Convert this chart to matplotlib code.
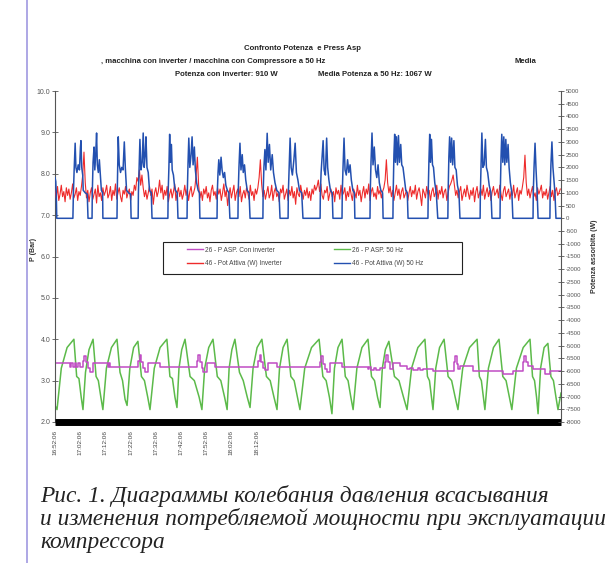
import numpy as np
import matplotlib
matplotlib.use("Agg")
import matplotlib.pyplot as plt
from matplotlib.lines import Line2D
from matplotlib.patches import Rectangle

# ---------------- data ----------------
time_labels = ["16:52:06", "17:02:06", "17:12:06", "17:22:06", "17:32:06",
               "17:42:06", "17:52:06", "18:02:06", "18:12:06"]
label_minutes = [0, 10, 20, 30, 40, 50, 60, 70, 80]

# suction pressure, machine at 50 Hz (minutes, bar)
green_pressure = [
    (0.0, 2.4), (0.8, 2.3), (2.5, 3.3), (4.8, 3.8), (7.5, 4.0), (8.6, 3.1), (9.5, 3.05), (10.4, 2.6), (11.1, 2.3),
    (12.1, 3.2), (13.5, 3.75), (15.1, 4.0), (16.3, 3.1), (17.2, 3.0), (18.2, 2.6), (19.0, 2.3),
    (20.4, 3.3), (22.4, 3.8), (24.6, 4.0), (25.8, 3.2), (26.8, 3.0), (27.8, 2.55), (28.6, 2.4),
    (29.7, 3.3), (31.2, 3.8), (32.9, 3.95), (34.3, 3.1), (35.5, 3.0), (36.8, 2.6), (37.7, 2.3),
    (39.4, 3.3), (41.7, 3.8), (44.4, 4.0), (45.6, 3.1), (46.6, 3.05), (47.6, 2.6), (48.4, 2.35),
    (49.2, 3.3), (50.3, 3.75), (51.6, 4.0), (53.6, 3.1), (55.3, 3.0), (57.2, 2.6), (58.3, 2.3),
    (59.4, 3.3), (61.0, 3.8), (62.7, 4.0), (64.4, 3.1), (65.8, 3.0), (67.3, 2.6), (68.3, 2.3),
    (69.1, 3.3), (70.2, 3.75), (71.4, 4.0), (73.2, 3.2), (74.7, 3.0), (76.3, 2.6), (77.4, 2.35),
    (78.6, 3.3), (80.2, 3.8), (82.1, 4.0), (83.9, 3.1), (85.4, 3.0), (86.9, 2.6), (88.1, 2.3),
    (89.1, 3.3), (90.5, 3.8), (92.1, 4.0), (93.6, 3.1), (94.9, 3.0), (96.2, 2.6), (97.2, 2.3),
    (99.1, 3.3), (101.8, 3.8), (104.8, 4.0), (106.3, 3.1), (107.6, 3.0), (108.9, 2.6), (109.9, 2.2),
    (110.9, 3.3), (112.3, 3.8), (113.9, 4.0), (115.2, 3.1), (116.3, 3.0), (117.4, 2.6), (118.3, 2.3),
    (119.8, 3.3), (121.8, 3.8), (124.2, 4.0), (125.6, 3.1), (126.8, 3.0), (128.0, 2.6), (129.0, 2.35),
    (129.9, 3.3), (131.1, 3.75), (132.5, 3.95), (134.7, 3.1), (136.5, 3.0), (138.3, 2.6), (139.7, 2.3),
    (141.5, 3.3), (144.0, 3.8), (146.8, 4.0), (147.8, 3.1), (148.6, 3.0), (149.4, 2.6), (150.0, 2.3),
    (151.1, 3.3), (152.6, 3.8), (154.4, 4.0), (156.0, 3.1), (157.4, 3.0), (158.8, 2.6), (159.9, 2.3),
    (161.8, 3.3), (164.5, 3.8), (167.5, 4.0), (168.4, 3.1), (169.2, 3.0), (170.0, 2.6), (170.6, 2.3),
    (172.0, 3.3), (174.0, 3.8), (176.2, 4.0), (177.7, 3.1), (179.0, 3.0), (180.3, 2.6), (181.3, 2.3),
    (183.1, 3.3), (185.8, 3.8), (188.5, 4.0), (189.5, 3.1), (190.3, 3.0), (191.1, 2.6), (191.7, 2.2),
    (192.7, 3.3), (194.1, 3.8), (195.6, 3.9), (196.8, 3.1), (197.8, 3.0), (198.8, 2.6), (199.6, 2.3),
    (200.8, 2.7),
]

# suction pressure, machine with inverter (minutes, bar) - step series
purple_pressure = [
    (0.0, 3.42), (6.0, 3.33), (6.5, 3.42), (7.2, 3.33), (7.8, 3.42), (8.5, 3.33), (9.3, 3.42), (10.0, 3.33),
    (11.2, 3.48), (11.6, 3.60), (12.3, 3.45), (13.0, 3.30), (13.9, 3.22), (15.2, 3.42), (21.2, 3.33),
    (21.6, 3.42), (22.0, 3.33), (22.5, 3.32), (33.1, 3.48), (33.6, 3.62), (34.3, 3.45), (35.0, 3.30),
    (35.7, 3.22), (37.0, 3.42), (41.7, 3.32), (56.2, 3.48), (56.7, 3.62), (57.4, 3.45), (58.2, 3.30),
    (58.9, 3.22), (60.2, 3.42), (63.5, 3.32), (80.7, 3.48), (81.2, 3.62), (81.9, 3.45), (82.6, 3.30),
    (83.3, 3.25), (84.7, 3.42), (88.0, 3.32), (105.2, 3.45), (105.6, 3.60), (106.4, 3.40), (107.1, 3.28),
    (107.8, 3.20), (109.1, 3.42), (113.8, 3.32), (124.3, 3.27), (124.8, 3.32), (125.5, 3.26), (126.5, 3.30),
    (127.5, 3.26), (129.0, 3.30), (131.0, 3.45), (131.5, 3.62), (132.3, 3.45), (132.9, 3.27), (134.3, 3.42),
    (136.9, 3.36), (139.6, 3.27), (141.0, 3.30), (142.0, 3.25), (144.0, 3.30), (145.0, 3.25), (146.0, 3.28),
    (150.1, 3.23), (158.2, 3.45), (158.7, 3.60), (159.4, 3.40), (160.0, 3.27), (160.7, 3.36), (166.0, 3.23),
    (177.9, 3.15), (181.9, 3.23), (185.8, 3.45), (186.3, 3.60), (187.0, 3.45), (187.8, 3.36), (189.8, 3.27),
    (194.4, 3.15), (196.4, 3.23), (200.8, 3.23),
]

# active power, machine at 50 Hz (minutes, W)
blue_power = [
    (0.0, 1600), (0.3, 1450), (0.5, 1000), (0.7, 0),
    (7.1, 0), (7.3, 1000), (7.6, 1900), (8.0, 2950), (8.3, 2000), (8.7, 1800), (9.2, 2100), (9.7, 1900), (10.1, 2800), (10.3, 3050), (10.6, 2000), (11.0, 1700), (11.2, 1100), (12.0, 1000), (12.8, 950), (13.1, 0),
    (14.7, 0), (14.8, 1000), (15.1, 2200), (15.5, 2800), (15.8, 1900), (16.2, 2600), (16.5, 3350), (16.8, 2100), (17.2, 1800), (17.6, 2300), (18.0, 1700), (18.4, 1100), (18.9, 1000), (19.0, 0),
    (24.6, 0), (24.7, 1000), (24.9, 2000), (25.1, 3200), (25.5, 2100), (26.0, 1800), (26.5, 2000), (27.0, 1900), (27.5, 3000), (27.9, 2000), (28.4, 1100), (29.2, 1000), (30.0, 950), (30.2, 0),
    (33.0, 0), (33.1, 1000), (33.4, 2000), (33.7, 3100), (34.1, 1900), (34.6, 2200), (35.0, 3350), (35.4, 2000), (35.8, 2500), (36.1, 3200), (36.5, 2000), (37.0, 1800), (37.5, 1100), (38.2, 1000), (38.5, 0),
    (44.8, 0), (44.9, 1000), (45.2, 2000), (45.5, 3300), (45.8, 2200), (46.2, 2900), (46.5, 1900), (47.0, 1700), (47.4, 1300), (47.8, 1100), (48.5, 1000), (48.8, 0),
    (52.4, 0), (52.5, 1000), (52.8, 2200), (53.1, 3150), (53.5, 2000), (54.0, 2500), (54.4, 3200), (54.8, 2100), (55.3, 2800), (55.7, 1900), (56.2, 1400), (56.8, 1100), (57.3, 1000), (57.5, 0),
    (64.3, 0), (64.4, 1000), (64.7, 1800), (65.0, 2300), (65.4, 1700), (65.9, 2400), (66.3, 1900), (66.8, 1600), (67.3, 1800), (67.8, 1300), (68.4, 1100), (69.0, 1000), (69.4, 0),
    (72.6, 0), (72.7, 1000), (73.0, 2000), (73.4, 2950), (73.8, 1900), (74.3, 2500), (74.7, 1800), (75.2, 2100), (75.7, 1500), (76.3, 1100), (77.0, 1000), (77.4, 0),
    (82.5, 0), (82.6, 1000), (82.9, 2000), (83.3, 2700), (83.7, 1900), (84.2, 3340), (84.6, 2200), (85.1, 2900), (85.6, 1900), (86.2, 2500), (86.7, 1800), (87.3, 1400), (88.0, 1100), (88.9, 1000), (89.3, 0),
    (92.5, 0), (92.6, 1000), (92.9, 1900), (93.3, 3150), (93.7, 2000), (94.2, 1700), (94.8, 2300), (95.3, 2950), (95.8, 1800), (96.4, 1500), (97.0, 1100), (97.9, 1000), (98.4, 0),
    (105.2, 0), (105.3, 1000), (105.6, 1800), (106.0, 2400), (106.4, 3050), (106.8, 1900), (107.3, 1700), (107.8, 3150), (108.2, 2000), (108.7, 1500), (109.3, 1100), (110.0, 1000), (110.3, 0),
    (113.9, 0), (114.0, 1000), (114.3, 2000), (114.7, 3150), (115.1, 1900), (115.6, 1700), (116.1, 2300), (116.6, 1800), (117.1, 2100), (117.6, 1500), (118.2, 1100), (118.8, 1000), (119.0, 0),
    (125.0, 0), (125.1, 1000), (125.4, 2200), (125.8, 3350), (126.2, 2100), (126.7, 2800), (127.2, 1900), (127.7, 1600), (128.2, 2100), (128.7, 1400), (129.3, 1100), (130.0, 1000), (130.2, 0),
    (134.1, 0), (134.2, 1000), (134.5, 2500), (134.8, 3300), (135.1, 2200), (135.5, 3200), (135.9, 2100), (136.3, 3250), (136.7, 2200), (137.2, 2900), (137.6, 2100), (138.1, 2000), (138.6, 1600), (139.2, 1100), (139.8, 1000), (140.1, 0),
    (148.0, 0), (148.1, 1000), (148.4, 2300), (148.7, 3300), (149.0, 2200), (149.4, 3100), (149.8, 2100), (150.2, 2000), (150.7, 1400), (151.3, 1000), (151.9, 0),
    (155.9, 0), (156.0, 1000), (156.3, 2400), (156.6, 3200), (157.0, 2200), (157.4, 3150), (157.8, 2100), (158.3, 3050), (158.7, 2000), (159.2, 1900), (159.7, 1300), (160.3, 1000), (160.7, 0),
    (168.7, 0), (168.8, 1000), (169.1, 2200), (169.4, 3350), (169.8, 2000), (170.3, 2100), (170.8, 3100), (171.2, 2000), (171.7, 1800), (172.3, 1300), (173.0, 1000), (173.4, 0),
    (176.6, 0), (176.7, 1000), (177.0, 2400), (177.3, 3300), (177.7, 2200), (178.1, 3200), (178.5, 2100), (178.9, 3100), (179.3, 2200), (179.8, 2900), (180.2, 2000), (180.7, 1400), (181.3, 1000), (181.7, 0),
    (189.7, 0), (189.8, 1000), (190.1, 2000), (190.5, 2950), (190.9, 1900), (191.3, 1100), (191.7, 0),
    (196.4, 0), (196.5, 1000), (196.8, 2100), (197.2, 3000), (197.6, 2000), (198.0, 1500), (198.4, 1000), (198.8, 0), (200.8, 0),
]

# active power, machine with inverter (W), sampled every half minute from 16:52:06
red_step_min = 0.5
red_power = [
    1100, 800, 1250, 700, 950, 1300, 850, 1050, 650, 1200, 900, 1150, 750, 1000, 1350, 800, 950, 1200, 700, 1050,
    900, 1250, 1700, 2600, 1400, 800, 1100, 650, 1000, 1200, 750, 950, 1150, 600, 1300, 850, 1000, 700, 1200, 900,
    1050, 1300, 800, 950, 1250, 700, 1100, 900, 1350, 750, 1000, 1200, 850, 650, 1100, 950, 1250, 800, 1000, 1150,
    700, 1050, 900, 1300, 1100, 1600, 1450, 1900, 1300, 1700, 1200, 850, 1100, 750, 1000, 1250, 900, 1150, 550, 1000,
    1200, 850, 1050, 1500, 1000, 1300, 750, 1100, 900, 1250, 650, 950, 1150, 800, 1050, 1350, 700, 1000, 1200, 850,
    1100, 750, 950, 1300, 900, 1150, 700, 1050, 1250, 850, 1000, 1200, 1700, 2400, 1300, 800, 1050, 700, 1150, 950,
    1250, 800, 1000, 650, 1100, 1300, 900, 1050, 750, 1200, 950, 1150, 700, 1000, 1350, 850, 1100, 500, 950, 1200,
    800, 1050, 1300, 700, 1000, 1150, 850, 1250, 650, 950, 1100, 800, 1200, 1000, 750, 1300, 900, 1050, 700, 1150,
    950, 1200, 1600, 2300, 1350, 850, 1100, 750, 1000, 1250, 800, 950, 1300, 700, 1050, 1200, 850, 1000, 650, 1150,
    1000, 1300, 750, 950, 1150, 700, 1100, 900, 1250, 800, 1050, 550, 1200, 950, 850, 1300, 1000, 750, 1100, 900,
    1200, 800, 1050, 700, 1150, 950, 1300, 1100, 1250, 1500, 1050, 1350, 900, 750, 1100, 1000, 1250, 700, 950, 1150,
    850, 1050, 650, 1200, 950, 1100, 750, 1300, 900, 1000, 1200, 700, 1050, 850, 1250, 950, 700, 1150, 1000, 800,
    1300, 900, 1100, 650, 1000, 1250, 800, 1150, 950, 1350, 700, 1050, 1200, 850, 1000, 750, 1250, 950, 1100, 800,
    1050, 1200, 1500, 2300, 1400, 1000, 1250, 850, 1100, 700, 1000, 1300, 900, 1150, 750, 1050, 1200, 800, 950, 1100,
    700, 1000, 1250, 850, 1100, 950, 1300, 750, 1050, 1200, 900, 500, 1150, 1000, 800, 1250, 950, 1100, 700, 1050,
    1200, 850, 1000, 1300, 750, 1100, 950, 1250, 800, 1050, 1150, 700, 1000, 1250, 1350, 1500, 1700, 1300, 900, 1100,
    800, 1050, 1250, 700, 950, 1150, 850, 1300, 1000, 750, 1100, 900, 1200, 650, 1050, 1250, 800, 1000, 1150, 900,
    1300, 750, 1000, 1200, 850, 1100, 700, 1050, 1250, 900, 1000, 1150, 800, 1300, 950, 700, 1100, 1250, 850, 1000,
    1150, 750, 1050, 900, 1300, 800, 1000, 1200, 700, 1100, 950, 1250, 1600, 2480, 1400, 900, 1150, 800, 1050, 1250,
    850, 1000, 700, 1200, 950, 1100, 1300, 800, 1050, 900, 1150, 750, 1000, 1250, 850, 1100, 700, 1050, 1200, 900,
    1000, 1150,
]

legend_labels = ["26 - P ASP. Con inverter", "46 - Pot Attiva (W) Inverter",
                 "26 - P ASP. 50 Hz", "46 - Pot Attiva (W) 50 Hz"]

# ---------------- figure ----------------
W, H = 610, 563
plt.rcParams["font.family"] = ["Liberation Sans", "DejaVu Sans"]
fig = plt.figure(figsize=(W / 100, H / 100), dpi=100)
fig.patch.set_facecolor("white")


def fx(px):
    return px / W


def fy(py):
    return 1 - py / H


ax = fig.add_axes([fx(55), fy(422), fx(561 - 55), (422 - 91) / H])
ax2 = ax.twinx()

c_green = "#5cba4a"
c_purple = "#c04cc4"
c_red = "#ee2b2b"
c_blue = "#2350b0"

g_t, g_p = zip(*green_pressure)
p_t, p_p = zip(*purple_pressure)
b_t, b_w = zip(*blue_power)
r_t = np.arange(len(red_power)) * red_step_min

l_green, = ax.plot(g_t, g_p, color=c_green, lw=1.1)
l_purple, = ax.plot(p_t, p_p, color=c_purple, lw=1.1, drawstyle="steps-post")
l_red, = ax2.plot(r_t, red_power, color=c_red, lw=0.8)
l_blue, = ax2.plot(b_t, b_w, color=c_blue, lw=1.1)

ax.set_xlim(0, 200.8)
ax.set_ylim(2, 10)
ax2.set_ylim(-8000, 5000)

ax.set_yticks(np.arange(2, 10.01, 1.0))
ax.set_yticklabels([f"{v:.1f}" for v in np.arange(2, 10.01, 1.0)])
r_ticks = list(range(-8000, 5001, 500))
ax2.set_yticks(r_ticks)
ax2.set_yticklabels([str(v) for v in r_ticks])
ax.set_xticks(label_minutes)
ax.set_xticklabels(time_labels, rotation=90)

ax.tick_params(axis="x", length=0, pad=6, labelsize=4.6, labelcolor="#444444")
ax.tick_params(axis="y", direction="inout", length=4, width=0.6, color="#555555",
               labelsize=5, labelcolor="#555555", pad=1.5)
ax2.tick_params(axis="y", direction="inout", length=4, width=0.6, color="#555555",
                labelsize=4.3, labelcolor="#555555", pad=1.5)

for s in ["top", "right"]:
    ax.spines[s].set_visible(False)
for s in ["top", "left", "bottom"]:
    ax2.spines[s].set_visible(False)
ax.spines["left"].set_color("#555555")
ax.spines["left"].set_linewidth(0.8)
ax2.spines["right"].set_color("#555555")
ax2.spines["right"].set_linewidth(0.8)
ax.spines["bottom"].set_color("black")
ax.spines["bottom"].set_linewidth(5)
ax.spines["bottom"].set_capstyle("butt")
ax.patch.set_visible(False)

ax.set_ylabel("P (Bar)", fontsize=5, fontweight="bold", color="#333333")
ax.yaxis.set_label_coords(-0.036, 0.52)
ax2.set_ylabel("Potenza assorbita (W)", fontsize=5, fontweight="bold", color="#333333")
ax2.yaxis.set_label_coords(1.06, 0.5)

# legend: frame drawn as a separate box, entries placed inside
fig.add_artist(Rectangle((fx(163), fy(274)), fx(462 - 163), (274 - 242) / H,
                         transform=fig.transFigure, facecolor="white",
                         edgecolor="#222222", lw=0.8, zorder=5))
leg = fig.legend([l_purple, l_red, l_green, l_blue], legend_labels, ncol=2,
                 loc="upper left", bbox_to_anchor=(fx(187), fy(246.5)),
                 fontsize=4.7, handlelength=2.45, handletextpad=0.35,
                 labelspacing=1.05, columnspacing=7.9, borderpad=0,
                 borderaxespad=0, frameon=False)
leg.set_zorder(6)
for h in leg.legend_handles:
    h.set_linewidth(1.0)
for t in leg.get_texts():
    t.set_color("#444444")

tkw = dict(fontsize=5.6, fontweight="bold", color="#222222", va="center")
fig.text(fx(302), fy(48), "Confronto Potenza  e Press Asp", ha="center", **tkw)
fig.text(fx(213), fy(61), ", macchina con inverter / macchina con Compressore a 50 Hz", ha="center", **tkw)
fig.text(fx(525), fy(61), "Media", ha="center", **tkw)
fig.text(fx(175), fy(74), "Potenza con inverter: 910 W", ha="left", **tkw)
fig.text(fx(318), fy(74), "Media Potenza a 50 Hz: 1067 W", ha="left", **tkw)

ckw = dict(fontsize=16.8, style="italic", family=["Liberation Serif", "DejaVu Serif"],
           color="#222222", va="baseline", ha="left")
fig.text(fx(40), fy(502), "Рис. 1. Диаграммы колебания давления всасывания", **ckw)
fig.text(fx(40), fy(525), "и изменения потребляемой мощности при эксплуатации", **ckw)
fig.text(fx(40), fy(548), "компрессора", **ckw)

fig.add_artist(Line2D([fx(27), fx(27)], [0, 1], transform=fig.transFigure,
                      color="#9f98e0", lw=1.2))

fig.savefig("out.png", dpi=100, facecolor="white")
